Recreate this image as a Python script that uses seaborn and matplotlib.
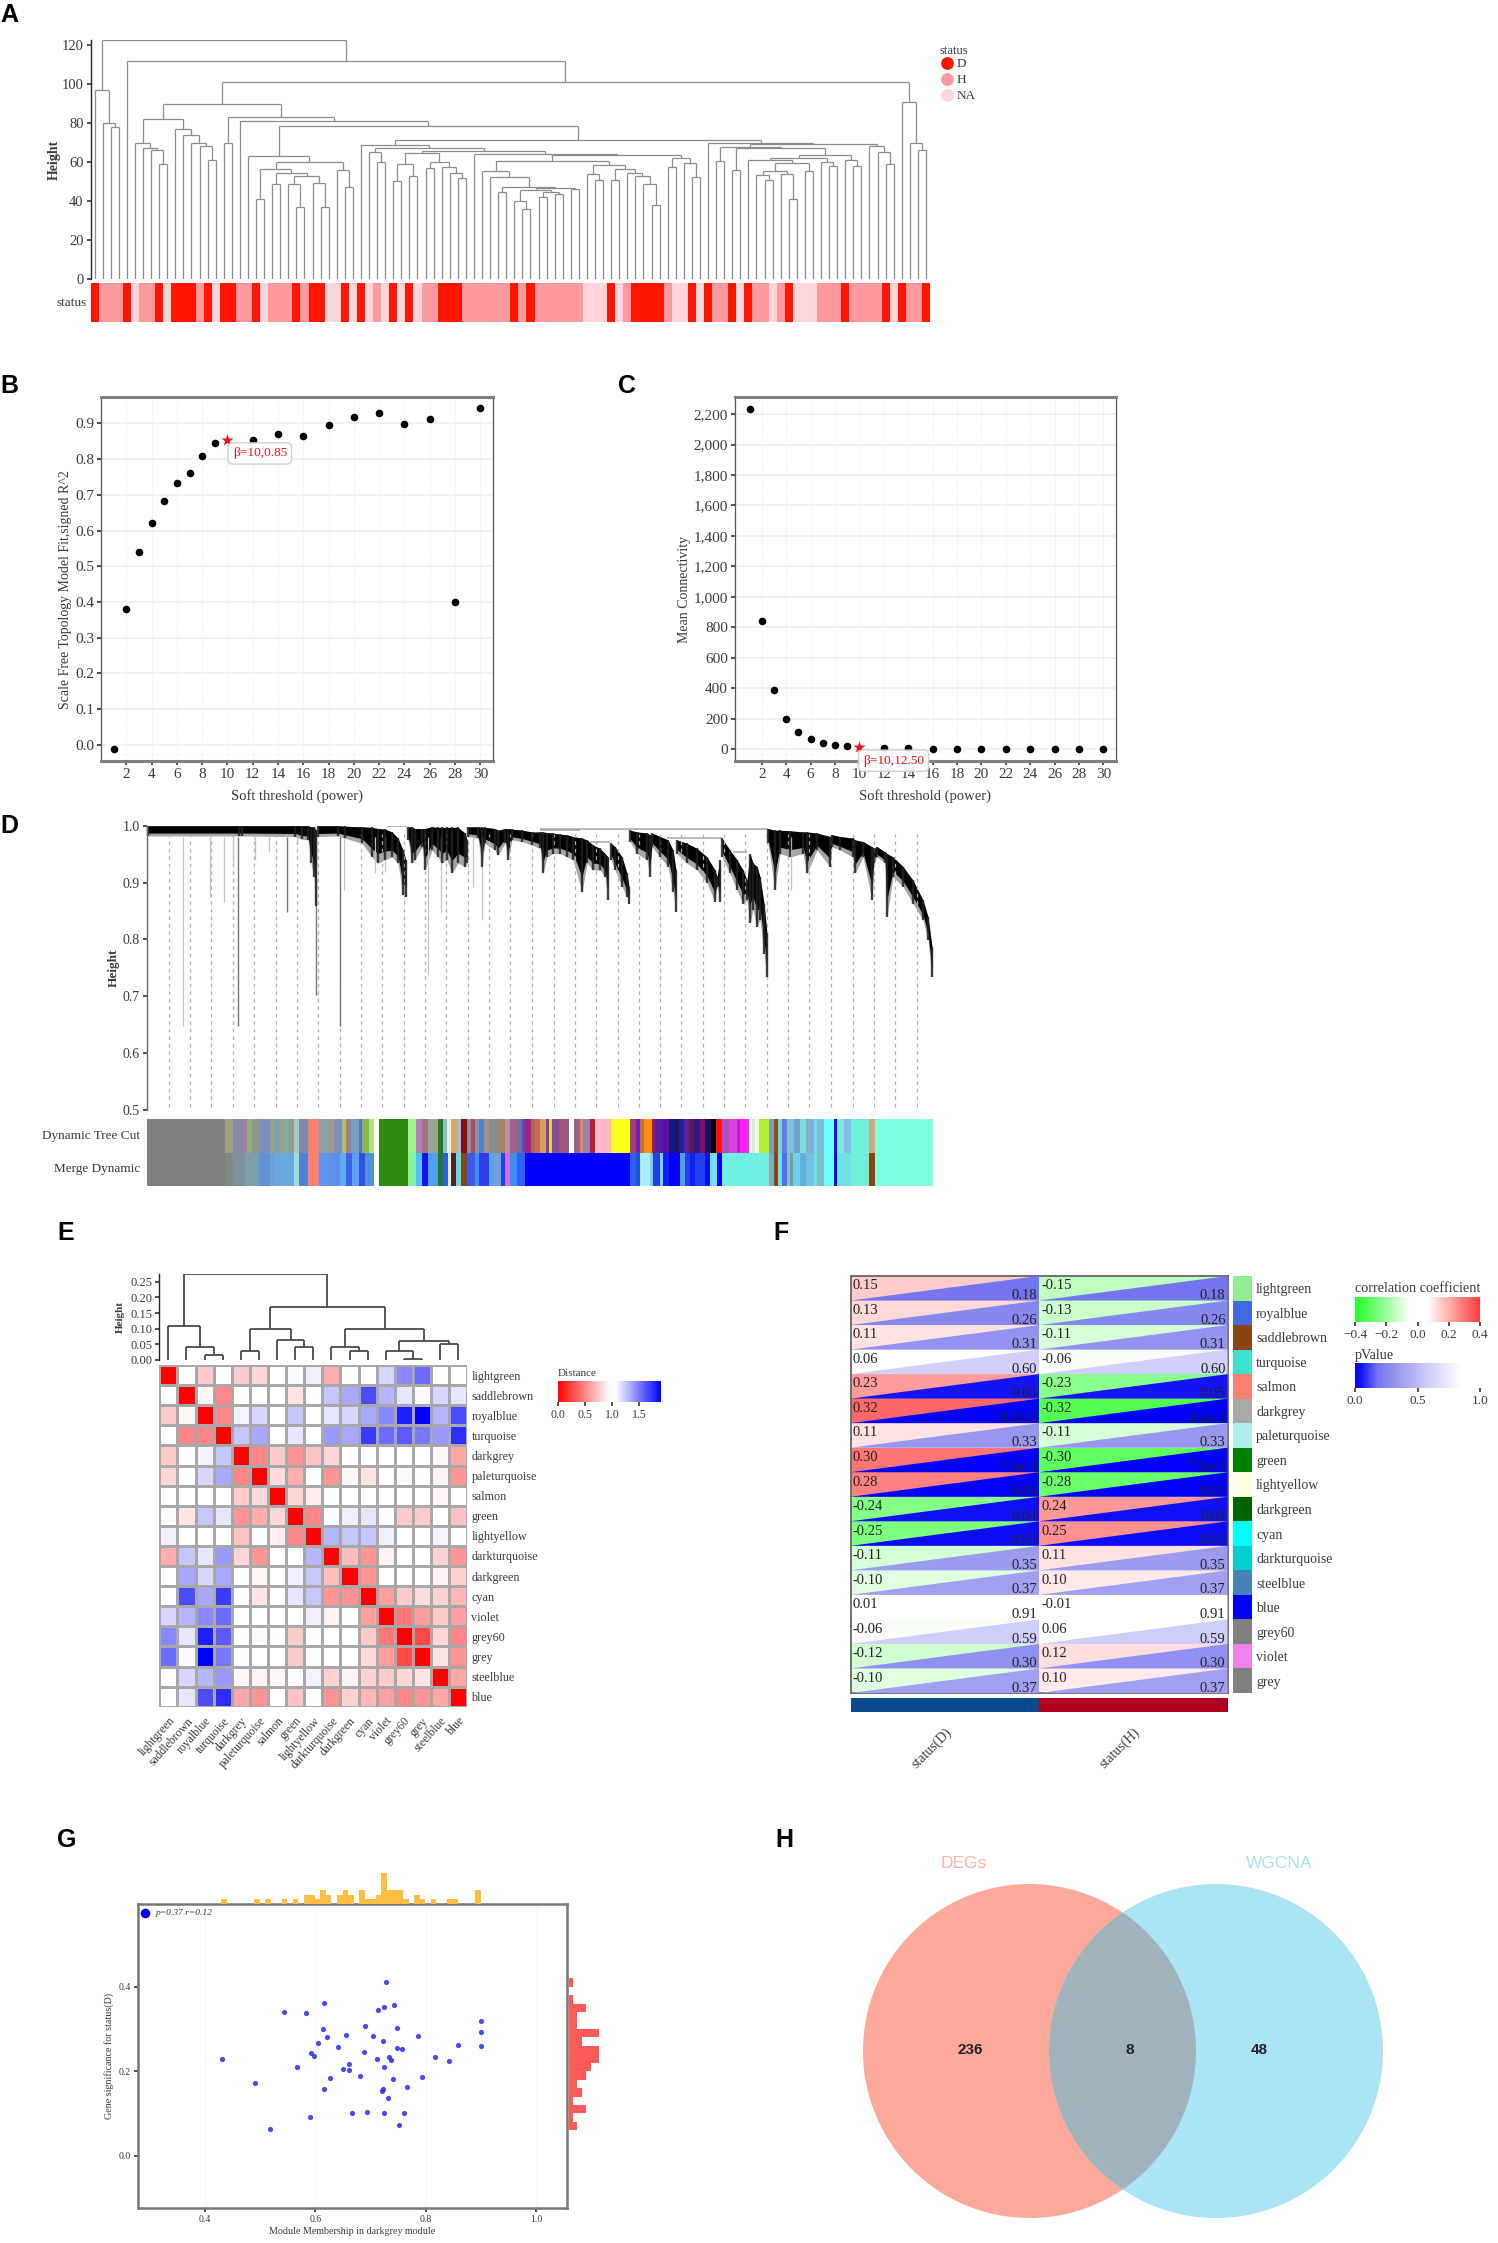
import numpy as np
import pandas as pd
import matplotlib
matplotlib.use("Agg")
import matplotlib.pyplot as plt
import seaborn as sns
from matplotlib.collections import LineCollection
from matplotlib.colors import LinearSegmentedColormap, ListedColormap, Normalize
from matplotlib.cm import ScalarMappable
from matplotlib.patches import Ellipse

# ---------------- panel A data ----------------
L = None
a_left = (97, L, (80, L, (78, L, L)))
a_p = (70, L, (67, L, (66, L, (59, L, L))))
a_q = (77, L, (74, L, (70, L, (68, L, (61, L, L)))))
a_u = (63, L, (60, (56.5, (41, L, L), (54.5, (49, L, L), (53, (49, L, (37, L, L)), (49.5, L, (37, L, L))))),
               (56, L, (47, L, L))))
a_g1 = (59, (50.5, L, L), (53, L, L))
a_g2 = (60, (57, L, L), (57.5, L, (54.5, L, (52, L, L))))
a_k1 = (55.5, L, (52.5, L, (47, (44.5, L, L),
        (46.5, (45.5, (40, L, (36, L, L)), (44.5, (42, L, L), (43.5, L, L))), (46, L, L)))))
a_k2 = (58.5, (54, L, (51, L, L)), (56.5, (51, L, L), (54.5, L, (53, L, (49, L, (38, L, L))))))
a_m = (62, (57.5, L, L), (59.5, L, (52.5, L, L)))
a_c1 = (64.3, L, (63.5, (60.5, a_k1, a_k2), a_m))
a_va = (68.5, L, (67, (65, L, (60, L, L)), (65.5, (64.5, a_g1, a_g2), a_c1)))
a_x = (61, L, (59.5, (55.5, (53.5, L, (51, L, L)), (54, L, (41, L, L))), (55.5, L, L)))
a_x2 = (62, a_x, (60, L, (58, L, L)))
a_y2 = (61, L, (58, L, L))
a_vbl = (67.5, (60.5, L, L), (67, (56, L, L), (63.5, a_x2, a_y2)))
a_vbr = (68, L, (65, L, (59, L, L)))
a_vb = (70, L, (69.5, a_vbl, a_vbr))
a_t = (78.5, a_u, (71.5, a_va, a_vb))
a_d = (89.5, (82, a_p, a_q), (83, (70, L, L), (81, L, a_t)))
a_e = (91, L, (70, L, (66, L, L)))
tree_a = (122.5, a_left, (112, L, (101, a_d, a_e)))
status_runs = [('D',1),('H',3),('D',1),('N',1),('H',2),('D',1),('N',1),('D',3),('H',1),('D',1),('N',1),('D',2),
               ('H',2),('D',1),('N',1),('H',3),('D',1),('H',1),('D',2),('N',2),('D',1),('N',1),('D',1),('N',1),
               ('H',1),('N',1),('D',1),('N',1),('D',1),('N',1),('H',2),('D',3),('H',6),('D',1),('H',1),('D',1),
               ('H',6),('N',3),('D',1),('N',1),('H',1),('D',4),('H',1),('N',2),('D',1),('N',1),('D',1),('H',2),
               ('D',1),('N',1),('D',1),('H',2),('N',1),('H',1),('D',1),('N',3),('H',3),('D',1),('H',4),('D',1),
               ('N',1),('D',1),('H',2),('D',1)]
status_colors = {'D': '#FF1500', 'H': '#FD9A9F', 'N': '#FFD5DC'}

# ---------------- panels B, C data ----------------
powers = [1,2,3,4,5,6,7,8,9,10,12,14,16,18,20,22,24,26,28,30]
r2_fit = [-0.013,0.38,0.541,0.62,0.684,0.733,0.762,0.808,0.845,0.855,0.855,0.87,0.866,0.896,0.918,0.93,0.898,0.913,0.40,0.943]
mean_k = [2235,840,385,200,110,65,42,27,18,12.5,6,4,2.5,1.5,1,1,0.8,0.6,0.5,0.4]
power_ticks = [2,4,6,8,10,12,14,16,18,20,22,24,26,28,30]

# ---------------- panel D data: branch envelopes ----------------
b1_x = [1,92,95,148,155,161,164,167,169]
b1_top = [1,1,1,1,1,1,.998,.998,.992]
b1_bot = [.982,.982,.982,.981,.976,.975,.934,.910,.858]
b2_x = [171,191,198,215,225,231,238,245,251,256,259]
b2_top = [1,1,.999,.998,.997,.995,.994,.989,.978,.957,.939]
b2_bot = [.981,.982,.978,.969,.945,.934,.940,.945,.934,.878,.875]
b3_x = [261,265,268,275,278,285,291,295,300,305,311,318,320]
b3_top = [.998,.998,.995,.995,.995,.998,.997,.997,.997,.997,.997,.987,.975]
b3_bot = [.975,.934,.940,.963,.922,.957,.945,.934,.940,.916,.934,.928,.934]
b4_x = [321,331,335,338,348,351,358,361,365,375,385,393,396,400,406,413,420,426,435,440,446,453,458,461]
b4_top = [.998,.998,.997,.997,.995,.992,.995,.995,.994,.992,.989,.989,.989,.988,.987,.985,.984,.981,.978,.975,.966,.960,.951,.945]
b4_bot = [.981,.978,.928,.969,.957,.948,.969,.940,.975,.972,.966,.960,.916,.945,.951,.951,.945,.940,.884,.934,.922,.922,.910,.869]
b5_x = [464,468,475,480,482]
b5_top = [.969,.963,.945,.916,.893]
b5_bot = [.940,.922,.893,.875,.863]
b6_x = [483,490,500,503,505,513,521,526,529]
b6_top = [.992,.989,.987,.984,.987,.981,.975,.957,.922]
b6_bot = [.972,.951,.940,.910,.963,.945,.928,.884,.849]
b7_x = [530,540,550,560,568,570,573]
b7_top = [.975,.969,.960,.945,.922,.910,.940]
b7_bot = [.951,.934,.922,.899,.866,.893,.866]
b8_x = [575,583,590,596,600,603,606,610,613,617,620]
b8_top = [.978,.957,.940,.922,.904,.951,.934,.928,.910,.863,.811]
b8_bot = [.945,.916,.887,.863,.869,.828,.852,.822,.834,.775,.734]
b9_x = [621,628,633,643,656,660,670,683,685,693,706,708,716,725,727,730,738,740,746,756,766,776,781,785]
b9_top = [.995,.992,.992,.991,.989,.989,.987,.981,.984,.981,.978,.975,.972,.963,.960,.963,.954,.951,.945,.928,.904,.869,.840,.787]
b9_bot = [.969,.887,.951,.945,.951,.916,.957,.928,.963,.957,.945,.916,.945,.869,.934,.945,.934,.840,.910,.893,.863,.834,.799,.734]
spike_x = [36,63,77,86,91,108,122,140,150,169,193,197,228,238,281,294,326,335,644]
spike_low = [.647,.875,.866,.934,.647,.940,.954,.849,.972,.702,.647,.887,.916,.919,.737,.849,.893,.834,.887]
spike_dark = [0,0,0,0,1,0,0,1,0,1,1,0,0,0,0,0,0,0,0]
guide_x = [22,43,64,86,107,129,150,171,193,214,235,257,278,299,321,342,363,385,407,428,449,471,492,513,
           534,556,577,598,620,641,662,684,706,727,748,770]
link_h = [.995,.993,.971,.979,.954,1.0]
link_x0 = [393,393,443,520,586,240]
link_x1 = [621,433,463,575,600,260]
# colour strips: (end position in the read-off scale, colour), two sections
cut_left = [(240,'#808080'),(262,'#a0a080'),(290,'#8888a0'),(305,'#a080a8'),(320,'#9aaa80'),(345,'#8a9a90'),(375,'#7f90c0'),
 (385,'#a0a080'),(405,'#80a0b0'),(420,'#a0a080'),(432,'#70b0b8'),(445,'#a09880'),(462,'#a0d0c0'),(488,'#7f88b0'),(520,'#fa8072'),
 (550,'#8f9fa8'),(565,'#a09a90'),(590,'#8090c0'),(602,'#b0c070'),(618,'#a08080'),(640,'#70a0c0'),(650,'#6070c0'),(672,'#90b850'),
 (686,'#a8e880'),(700,'#ffffff'),(788,'#2e8b10'),(812,'#a0f090'),(830,'#b080b0'),(848,'#a07088'),(862,'#90a890'),(878,'#a0a090'),
 (892,'#1f7a2a'),(905,'#90c0c0'),(918,'#e0f0f0'),(935,'#d8a860'),(948,'#a0c0d0'),(965,'#8b0a1a'),(978,'#a08890'),(990,'#a05070'),
 (1002,'#9090a0'),(1015,'#5080d0'),(1030,'#a09090'),(1068,'#8a8a88'),(1080,'#b08050'),(1095,'#b890b0'),(1115,'#a06090'),
 (1130,'#7070a0'),(1140,'#5050c0'),(1158,'#a02080'),(1170,'#b06060'),(1190,'#c07050')]
cut_right = [(18,'#d8a060'),(25,'#8040a0'),(36,'#e8d040'),(55,'#8050a0'),(85,'#a05880'),(100,'#ffffff'),(120,'#a06080'),(128,'#d09060'),
 (150,'#a080b0'),(165,'#b02030'),(212,'#ffb6c8'),(268,'#ffff20'),(288,'#a04070'),(300,'#7020b0'),(310,'#c07030'),(335,'#ff9010'),
 (345,'#902050'),(365,'#5020a0'),(385,'#6010a0'),(405,'#101880'),(415,'#201060'),(430,'#202090'),(445,'#6020a0'),(460,'#601860'),
 (478,'#301880'),(495,'#801070'),(512,'#201060'),(528,'#000000'),(545,'#ff1000'),(565,'#b050c0'),(590,'#e040e0'),(600,'#c020d0'),
 (625,'#ff20f0'),(635,'#ffffff'),(645,'#d0f0d0'),(655,'#f4fff4'),(685,'#b0f030'),(700,'#80a0a0'),(712,'#805030'),(725,'#80d0e0'),
 (740,'#6080e0'),(760,'#80c0e0'),(780,'#70a0d0'),(798,'#80e0e0'),(820,'#80b0d0'),(830,'#80d0f0'),(850,'#70c0d0'),(880,'#70ffff'),
 (890,'#1010e0'),(910,'#80e8e8'),(932,'#80c0e0'),(985,'#70f0d8'),(1005,'#d0a880'),(1200,'#7fffe0')]
merge_left = [(240,'#808080'),(262,'#808a80'),(300,'#7f8f9f'),(335,'#80a0a8'),(345,'#60a0c0'),(375,'#6090d0'),(385,'#70a0d0'),
 (445,'#6aa8e0'),(450,'#a0d8e0'),(462,'#a0e0d0'),(488,'#5080d8'),(520,'#fa8072'),(550,'#6090f0'),(585,'#5a90e8'),(602,'#60b0f0'),
 (620,'#4060f0'),(640,'#60a0f0'),(660,'#3050e0'),(686,'#5090e0'),(700,'#ffffff'),(788,'#2e8b10'),(800,'#90f090'),(812,'#80f0c0'),
 (830,'#50c0f8'),(848,'#1010f0'),(878,'#50a0f0'),(892,'#1f7a2a'),(908,'#3060e0'),(918,'#e0f0f0'),(932,'#502030'),(948,'#60e0e0'),
 (965,'#8b4513'),(978,'#3060f0'),(990,'#5050f0'),(1000,'#4090f0'),(1030,'#3040f0'),(1045,'#60a0f0'),(1068,'#70a0e0'),(1080,'#2040f0'),
 (1095,'#d070f0'),(1115,'#4090f0'),(1140,'#3060ff'),(1190,'#0000ff')]
merge_right = [(268,'#0000ff'),(288,'#3060f0'),(300,'#2050e0'),(330,'#a8f0ff'),(338,'#80d0f0'),(358,'#2040e0'),(368,'#80d0f0'),
 (385,'#1020f0'),(420,'#0000ff'),(435,'#50a0f0'),(448,'#2040f0'),(465,'#1020f0'),(495,'#2040f0'),(510,'#0010e0'),(530,'#70e0ff'),
 (545,'#0000f0'),(685,'#70f0e0'),(700,'#80b0c0'),(712,'#8b4513'),(725,'#70e0f0'),(740,'#5070f0'),(750,'#80c0e0'),(758,'#80a080'),
 (780,'#70d0f0'),(798,'#60b0d8'),(820,'#70c0e0'),(830,'#70e0f0'),(850,'#80c0c0'),(880,'#70ffff'),(890,'#0a0ae0'),(932,'#70e0e8'),
 (985,'#70f0d8'),(1005,'#8b4513'),(1200,'#7fffe0')]

# ---------------- panel E data ----------------
e_modules = ['lightgreen','saddlebrown','royalblue','turquoise','darkgrey','paleturquoise','salmon','green','lightyellow',
             'darkturquoise','darkgreen','cyan','violet','grey60','grey','steelblue','blue']
e_distance = [
 [0,1,.75,1,.75,.8,1,1.08,1.12,.65,1,1.05,1.2,1.45,1.55,1,1],
 [1,0,.92,.5,1,1.05,1,.85,1,1.25,1.35,1.65,1.3,1.15,1.08,1.2,1.15],
 [.75,.92,0,.5,1.1,1.2,1.05,1.25,1,1.15,1.2,1.35,1.45,1.8,1.9,1.3,1.65],
 [1,.5,.5,0,1.25,1.35,1.05,1.15,1,1.4,1.35,1.7,1.55,1.6,1.5,1.4,1.75],
 [.75,1,1.1,1.25,0,.5,.75,.55,.72,.8,1,1,1,.95,1,.92,.62],
 [.8,1.05,1.2,1.35,.5,0,.82,.65,1,.55,.92,.85,.95,.93,.95,.9,.55],
 [1,1,1.05,1.05,.75,.82,0,.8,.88,1,1.05,1,1,1,1,.92,.95],
 [1.08,.85,1.25,1.15,.55,.65,.8,0,.5,1.05,1.12,1.15,1,.75,.75,1,.72],
 [1.12,1,1,1,.72,1,.88,.5,0,1.3,1.25,1.25,1.12,1,.95,1.1,1.03],
 [.65,1.25,1.15,1.4,.8,.55,1,1.05,1.3,0,.7,.55,.9,1,1,.78,.55],
 [1,1.35,1.2,1.35,1,.92,1.05,1.12,1.25,.7,0,.55,1,1,1,.9,.78],
 [1.05,1.65,1.35,1.7,1,.85,1.05,1.15,1.25,.55,.55,0,.6,.75,.82,.78,.68],
 [1.2,1.3,1.45,1.55,1,.95,1,1,1.12,.9,1,.6,0,.45,.58,.75,.6],
 [1.45,1.15,1.8,1.6,.95,.93,1,.75,1,1,1,.75,.45,0,.28,.8,.5],
 [1.55,1.08,1.9,1.5,1,.95,1,.75,.95,1,1,.82,.58,.28,0,.85,.55],
 [1,1.2,1.3,1.4,.92,.9,.92,1,1.1,.78,.9,.78,.75,.8,.85,0,.62],
 [1,1.15,1.65,1.75,.62,.55,.95,.72,1.03,.55,.78,.68,.6,.5,.55,.62,0]]
tree_e = (.275, (.11, L, (.04, L, (.017, L, L))),
          (.17, (.098, (.03, L, L), (.065, L, (.04, L, L))),
                (.10, (.04, L, (.03, L, L)), (.06, (.03, L, (.003, L, L)), (.05, L, L)))))
e_height_ticks = [0, .05, .10, .15, .20, .25]

# ---------------- panel F data ----------------
f_modules = ['lightgreen','royalblue','saddlebrown','turquoise','salmon','darkgrey','paleturquoise','green','lightyellow',
             'darkgreen','cyan','darkturquoise','steelblue','blue','grey60','violet','grey']
f_module_colors = ['#90EE90','#4169E1','#8B4513','#40E0D0','#FA8072','#A9A9A9','#AFEEEE','#008000','#FFFFE0',
                   '#006400','#00FFFF','#00CED1','#4682B4','#0000FF','#808080','#EE82EE','#808080']
corr_d = [.15,.13,.11,.06,.23,.32,.11,.30,.28,-.24,-.25,-.11,-.10,.01,-.06,-.12,-.10]
corr_h = [-.15,-.13,-.11,-.06,-.23,-.32,-.11,-.30,-.28,.24,.25,.11,.10,-.01,.06,.12,.10]
p_values = [.18,.26,.31,.60,.05,.0042,.33,.007,.01,.04,.03,.35,.37,.91,.59,.30,.37]
p_labels = ['0.18','0.26','0.31','0.60','0.05','4.2e-3','0.33','7.0e-3','0.01','0.04','0.03','0.35','0.37','0.91','0.59','0.30','0.37']
f_traits = ['status(D)', 'status(H)']

# ---------------- panel G data ----------------
mm_x = [.431,.490,.518,.543,.567,.582,.590,.591,.598,.605,.613,.615,.616,.621,.626,.641,.650,.656,.660,.660,.666,.681,.687,.689,
        .693,.705,.712,.714,.720,.723,.722,.724,.725,.725,.728,.731,.733,.737,.740,.742,.748,.748,.752,.757,.760,.766,.786,.793,
        .816,.841,.858,.899,.900,.899]
gs_y = [.228,.173,.062,.340,.210,.338,.092,.244,.235,.267,.300,.158,.361,.282,.185,.258,.205,.286,.218,.203,.101,.189,.246,.307,
        .103,.284,.230,.345,.152,.159,.271,.352,.101,.211,.411,.136,.234,.227,.182,.357,.303,.256,.072,.253,.100,.162,.283,.187,
        .234,.225,.263,.320,.294,.259]
top_counts = [1,0,0,0,0,0,1,0,1,0,0,1,0,1,0,2,2,1,3,2,0,2,3,2,0,3,1,1,2,7,3,3,3,1,0,2,1,0,1,0,0,1,1,0,0,0,3]
right_counts = [2,1,4,1,3,2,4,5,7,7,3,7,2,2,4,1,0,1]

# ---------------- panel H data ----------------
venn_names = ['DEGs', 'WGCNA']
venn_counts = [236, 8, 48]

# ---------------- drawing ----------------
sns.set_theme(style='ticks')
plt.rcParams['font.family'] = ['Liberation Serif', 'DejaVu Sans']
plt.rcParams['axes.linewidth'] = 1.0
W, H = 1498, 2243
fig = plt.figure(figsize=(W/100, H/100), dpi=100, facecolor='white')
TXT = '#3a3a3a'


def axpx(x0, y0, x1, y1, **kw):
    return fig.add_axes([x0/W, 1-y1/H, (x1-x0)/W, (y1-y0)/H], **kw)


def draw_tree(ax, tree, color, lw):
    segs = []
    n = [0]

    def rec(node):
        if node is None:
            x = n[0]
            n[0] += 1
            return x, 0.0
        h, a, b = node
        xa, ha = rec(a)
        xb, hb = rec(b)
        segs.extend([[(xa, ha), (xa, h)], [(xa, h), (xb, h)], [(xb, h), (xb, hb)]])
        return (xa+xb)/2, h
    rec(tree)
    ax.add_collection(LineCollection(segs, colors=color, linewidths=lw))
    return n[0]


# Panel A
axA = axpx(90.6, 40, 930, 279.3)
nA = draw_tree(axA, tree_a, '#8c8c8c', 0.9)
axA.set_xlim(-.5, nA-.5)
axA.set_ylim(0, 122.5)
sns.despine(ax=axA, bottom=True)
axA.set_xticks([])
axA.set_yticks([0, 20, 40, 60, 80, 100, 120])
axA.tick_params(axis='y', labelsize=10.5, length=3, colors=TXT, pad=2)
axA.set_ylabel('Height', fontsize=10, color=TXT, labelpad=1, fontweight='bold')
axS = axpx(90.6, 283, 930, 322)
s_list = [c for c, k in status_runs for _ in range(k)]
s_df = pd.DataFrame([[['D', 'H', 'N'].index(c) for c in s_list]])
sns.heatmap(s_df, ax=axS, cbar=False, vmin=0, vmax=2, xticklabels=False, yticklabels=['status'],
            cmap=ListedColormap([status_colors[k] for k in 'DHN']))
axS.tick_params(axis='y', length=0, labelsize=9.5, labelcolor=TXT, rotation=0, pad=3)

# Overlay for letters and legends
ov = fig.add_axes([0, 0, 1, 1], zorder=20, facecolor='none')
ov.set_xlim(0, W)
ov.set_ylim(H, 0)
ov.axis('off')
ov.text(940, 51, 'status', fontsize=9, color=TXT, va='center')
for lab, yy, k in zip(['D', 'H', 'NA'], [63, 79, 95], 'DHN'):
    ov.scatter([947], [yy], s=85, color=status_colors[k], linewidths=0)
    ov.text(957, yy+1, lab, fontsize=9.5, color=TXT, va='center')
for lab, x, y in [('A', 0, 15), ('B', 0, 386), ('C', 618, 386), ('D', 0, 826),
                  ('E', 57, 1233), ('F', 773, 1233), ('G', 57, 1840), ('H', 775, 1840)]:
    ov.text(x, y, lab, fontsize=18, fontweight='bold', family=['Liberation Sans'], color='black', va='center', ha='left')


def soft_panel(ax, y, star_xy, label, label_xy, yticks, ylabel, fmt):
    df = pd.DataFrame({'power': powers, 'value': y})
    sns.scatterplot(data=df[df.power != 10], x='power', y='value', ax=ax, color='black', s=30, linewidth=0, zorder=3)
    ax.scatter([star_xy[0]], [star_xy[1]], marker='*', s=85, color='#f01020', linewidths=0, zorder=5)
    ax.set_xticks(power_ticks)
    ax.set_yticks(yticks)
    if fmt:
        ax.set_yticklabels([f'{v:,}' for v in yticks])
    ax.grid(axis='y', color='#f0f0f0', lw=1.3)
    ax.grid(axis='x', color='#f2f2f2', lw=.7, ls='--')
    ax.set_axisbelow(True)
    ax.tick_params(labelsize=11, length=3, colors=TXT, pad=2)
    ax.set_xlabel('Soft threshold (power)', fontsize=10.5, color=TXT, labelpad=6)
    ax.set_ylabel(ylabel, fontsize=10, color=TXT)
    for s in ['top', 'bottom']:
        ax.spines[s].set_linewidth(2.2)
        ax.spines[s].set_color('#808080')
    for s in ['left', 'right']:
        ax.spines[s].set_color('#555555')
        ax.spines[s].set_linewidth(.9)
    ax.text(label_xy[0], label_xy[1], label, color='#f01020', fontsize=9.5, ha='center', va='center', zorder=6,
            clip_on=False, bbox=dict(boxstyle='round,pad=0.35', fc='white', ec='#cccccc', lw=1, alpha=.9))


axB = axpx(101, 396.7, 493, 760.7)
soft_panel(axB, r2_fit, (10, .855), '\u03b2=10,0.85', (12.56, .816), [0, .1, .2, .3, .4, .5, .6, .7, .8, .9],
           'Scale Free Topology Model Fit,signed R^2', False)
axB.set_xlim(0, 31)
axB.set_ylim(-.045, .975)
axB.yaxis.set_label_coords(-.075, .47)
axC = axpx(735, 396.7, 1115.6, 760.7)
soft_panel(axC, mean_k, (10, 12.5), '\u03b2=10,12.50', (12.8, -77), list(range(0, 2201, 200)),
           'Mean Connectivity', True)
axC.set_xlim(-.2, 31)
axC.set_ylim(-77, 2314)
axC.yaxis.set_label_coords(-.115, .47)

# Panel D
axD = axpx(147, 825.7, 933, 1110)
axD.set_xlim(0, 786)
axD.set_ylim(.5, 1.0)
axD.vlines(guide_x, .505, .985, color='#b0b0b0', lw=.9, ls=(0, (3, 3)))
for sx, sl, dk in zip(spike_x, spike_low, spike_dark):
    axD.vlines(sx, sl, .98, color='#777777' if dk else '#c4c4c4', lw=1.0 if dk else .9)
axD.hlines(link_h, link_x0, link_x1, color='#aaaaaa', lw=1.2)
for bx, bt, bb in [(b1_x, b1_top, b1_bot), (b2_x, b2_top, b2_bot), (b3_x, b3_top, b3_bot), (b4_x, b4_top, b4_bot),
                   (b5_x, b5_top, b5_bot), (b6_x, b6_top, b6_bot), (b7_x, b7_top, b7_bot), (b8_x, b8_top, b8_bot),
                   (b9_x, b9_top, b9_bot)]:
    t, b = np.array(bt), np.array(bb)
    axD.fill_between(bx, t, b, color='#6a6a6a', alpha=.6, lw=0, clip_on=False)
    axD.fill_between(bx, t, t+.72*(b-t), color='black', lw=0, clip_on=False)
    axD.vlines(bx, t, b, color='#222222', lw=1.7, alpha=.85, clip_on=False)
sns.despine(ax=axD, bottom=True)
axD.spines['left'].set_color('#666666')
axD.set_xticks([])
axD.set_yticks([.5, .6, .7, .8, .9, 1.0])
axD.tick_params(axis='y', labelsize=10, length=3, colors=TXT, pad=2)
axD.set_ylabel('Height', fontsize=9.5, color=TXT, fontweight='bold', labelpad=2)


def strip_cols(left, right):
    out = []
    for x in range(786):
        if x < 393:
            runs, z = left, (x+2)*3
        else:
            runs, z = right, (x-393)*3
        for end, c in runs:
            if z < end:
                out.append(c)
                break
        else:
            out.append(runs[-1][1])
    return out


col_top = strip_cols(cut_left, cut_right)
col_bot = strip_cols(merge_left, merge_right)
uniq = sorted(set(col_top+col_bot))
mat = pd.DataFrame([[uniq.index(c) for c in col_top], [uniq.index(c) for c in col_bot]])
axStrip = axpx(147, 1119, 933, 1186)
sns.heatmap(mat, ax=axStrip, cbar=False, cmap=ListedColormap(uniq), vmin=0, vmax=len(uniq)-1,
            xticklabels=False, yticklabels=['Dynamic Tree Cut', 'Merge Dynamic'])
axStrip.tick_params(axis='y', length=0, labelsize=9.5, labelcolor=TXT, rotation=0, pad=5)

# Panel E
dist_cmap = LinearSegmentedColormap.from_list('dist', [(0, '#ff0000'), (.5, '#ffffff'), (.56, '#ffffff'), (1, '#0000ff')])
axE = axpx(159.3, 1365, 467.3, 1706.7)
df_e = pd.DataFrame(e_distance, index=e_modules, columns=e_modules)
sns.heatmap(df_e, ax=axE, cmap=dist_cmap, vmin=0, vmax=1.9, cbar=False, linewidths=.9, linecolor='#a8a8a8')
axE.yaxis.tick_right()
axE.tick_params(axis='y', length=0, labelsize=8.7, labelcolor=TXT, rotation=0, pad=3)
axE.tick_params(axis='x', length=0, labelsize=8.5, labelcolor=TXT, pad=6)
plt.setp(axE.get_xticklabels(), rotation=48, ha='right', rotation_mode='anchor')
axEt = axpx(159.3, 1274, 467.3, 1360)
n_e = draw_tree(axEt, tree_e, '#4a4a4a', 1.3)
axEt.set_xlim(-.5, n_e-.5)
axEt.set_ylim(0, .275)
sns.despine(ax=axEt, bottom=True)
axEt.set_xticks([])
axEt.set_yticks(e_height_ticks)
axEt.set_yticklabels(['0.00', '0.05', '0.10', '0.15', '0.20', '0.25'])
axEt.tick_params(axis='y', labelsize=9, length=3, colors=TXT, pad=2)
axEt.set_ylabel('Height', fontsize=8, color=TXT, labelpad=4, fontweight='bold')
cE = axpx(557.7, 1380.7, 661, 1401.7)
cbE = fig.colorbar(ScalarMappable(Normalize(0, 1.9), dist_cmap), cax=cE, orientation='horizontal')
cbE.set_ticks([0, .5, 1, 1.5])
cbE.set_ticklabels(['0.0', '0.5', '1.0', '1.5'])
cbE.outline.set_visible(False)
cE.tick_params(labelsize=8.5, length=3, colors=TXT, pad=2)
ov.text(558, 1374, 'Distance', fontsize=8, color=TXT, va='center')

# Panel F
corr_cmap = LinearSegmentedColormap.from_list('corr', [(0, '#20ff20'), (.44, '#ffffff'), (.58, '#ffffff'), (1, '#ff3a3a')])
p_cmap = LinearSegmentedColormap.from_list('pv', [(0, '#0000ff'), (.05, '#1515f5'), (.18, '#7575f0'), (.37, '#a0a0f0'),
                                                  (.6, '#d0d0fa'), (.85, '#ffffff'), (1, '#ffffff')])
p_norm = Normalize(0, 1)
axF = axpx(850.5, 1276, 1227.5, 1693)
df_f = pd.DataFrame({f_traits[0]: corr_d, f_traits[1]: corr_h}, index=f_modules)
sns.heatmap(df_f, ax=axF, cmap=corr_cmap, vmin=-.4, vmax=.4, cbar=False, xticklabels=False, yticklabels=False)
for r, pv in enumerate(p_values):
    for c, vals in enumerate([corr_d, corr_h]):
        axF.fill([c, c+1, c+1], [r+1, r, r+1], color=p_cmap(p_norm(pv)), lw=0, zorder=3)
        axF.text(c+.012, r+.40, f'{vals[r]:.2f}', fontsize=10.5, color='#222222', ha='left', va='center', zorder=4)
        axF.text(c+.99, r+.80, p_labels[r], fontsize=10.5, color='#222222', ha='right', va='center', zorder=4)
for s in axF.spines.values():
    s.set_visible(True)
    s.set_color('#666666')
    s.set_linewidth(1.3)
axFa = axpx(1232.6, 1276, 1252, 1693)
sns.heatmap(pd.DataFrame({'m': list(range(17))}, index=f_modules), ax=axFa, cbar=False,
            cmap=ListedColormap(f_module_colors), vmin=0, vmax=16, xticklabels=False, yticklabels=True)
axFa.yaxis.tick_right()
axFa.set_ylabel('')
axFa.tick_params(axis='y', length=0, labelsize=10, labelcolor=TXT, rotation=0, pad=3)
axFb = axpx(850.5, 1698, 1227.5, 1712)
sns.heatmap(pd.DataFrame([[0, 1]], columns=f_traits), ax=axFb, cbar=False, cmap=ListedColormap(['#0b4a8c', '#b00020']),
            yticklabels=False)
axFb.tick_params(axis='x', length=0, labelsize=10, labelcolor=TXT, pad=10)
plt.setp(axFb.get_xticklabels(), rotation=45, ha='right', rotation_mode='anchor')
cF1 = axpx(1355, 1297, 1480, 1322)
cb1 = fig.colorbar(ScalarMappable(Normalize(-.4, .4), corr_cmap), cax=cF1, orientation='horizontal')
cb1.set_ticks([-.4, -.2, 0, .2, .4])
cb1.set_ticklabels(['\u22120.4', '\u22120.2', '0.0', '0.2', '0.4'])
cb1.outline.set_visible(False)
cF1.tick_params(labelsize=9.5, length=3, colors=TXT, pad=2)
cF2 = axpx(1355, 1363, 1480, 1388)
cb2 = fig.colorbar(ScalarMappable(p_norm, p_cmap), cax=cF2, orientation='horizontal')
cb2.set_ticks([0, .5, 1])
cb2.set_ticklabels(['0.0', '0.5', '1.0'])
cb2.outline.set_visible(False)
cF2.tick_params(labelsize=9.5, length=3, colors=TXT, pad=2)
ov.text(1355, 1289, 'correlation coefficient', fontsize=10.3, color=TXT, va='center')
ov.text(1355, 1355, 'pValue', fontsize=10.3, color=TXT, va='center')

# Panel G
axG = axpx(137.7, 1904, 566.7, 2208)
sns.scatterplot(x=mm_x, y=gs_y, ax=axG, color='#2a2aee', s=14, linewidth=0, alpha=.85, zorder=3)
axG.set_xlim(.278, 1.055)
axG.set_ylim(-.124, .596)
axG.set_xticks([.4, .6, .8, 1.0])
axG.set_yticks([0, .2, .4])
axG.grid(axis='x', color='#f8f8f8', lw=.8)
axG.tick_params(labelsize=7, length=3, colors=TXT, pad=2)
axG.set_xlabel('Module Membership in darkgrey module', fontsize=7.2, color=TXT, labelpad=2)
axG.set_ylabel('Gene significance for status(D)', fontsize=7.2, color=TXT, labelpad=3)
for s in axG.spines.values():
    s.set_color('#777777')
    s.set_linewidth(1.8)
axG.scatter([.018], [.972], transform=axG.transAxes, s=48, color='#0000ee', linewidths=0, zorder=5)
axG.text(.041, .97, 'p=0.37 r=0.12', transform=axG.transAxes, fontsize=6.8, color=TXT, va='center', style='italic')
top_edges = [.429 + .01*i for i in range(len(top_counts)+1)]
top_mid = [.434 + .01*i for i in range(len(top_counts))]
axGt = axpx(137.7, 1872, 566.7, 1903.5)
sns.histplot(x=top_mid, weights=top_counts, bins=top_edges, ax=axGt, color='#FFBE42', alpha=1, edgecolor='none', linewidth=0)
axGt.set_xlim(.278, 1.055)
axGt.set_ylim(0, 7.2)
axGt.axis('off')
right_edges = [.06 + .02*i for i in range(len(right_counts)+1)]
right_mid = [.07 + .02*i for i in range(len(right_counts))]
axGr = axpx(568.7, 1904, 600.7, 2208)
sns.histplot(y=right_mid, weights=right_counts, bins=right_edges, ax=axGr, color='#FF5A5A', alpha=1, edgecolor='none', linewidth=0)
axGr.set_ylim(-.124, .596)
axGr.set_xlim(0, 7.3)
axGr.axis('off')

# Panel H
axH = axpx(830, 1840, 1420, 2243)
axH.set_xlim(830, 1420)
axH.set_ylim(2243, 1840)
axH.axis('off')
e1 = Ellipse((1029.5, 2051), 333, 334, color='#FCA99C', lw=0)
e2 = Ellipse((1216, 2051), 334, 334, color='#ABE4F3', lw=0)
axH.add_patch(e1)
axH.add_patch(e2)
lens = Ellipse((1029.5, 2051), 333, 334, color='#A0B2BC', lw=0)
axH.add_patch(lens)
lens.set_clip_path(e2)
for cnt, xx in zip(venn_counts, [970, 1130, 1259]):
    axH.text(xx, 2050, str(cnt), fontsize=11, fontweight='bold', family=['Liberation Sans'], color='#222222',
             ha='center', va='center')
axH.text(963.5, 1863, venn_names[0], fontsize=12.5, family=['Liberation Sans'], color='#FDB4AC', ha='center', va='center')
axH.text(1279, 1863, venn_names[1], fontsize=12.5, family=['Liberation Sans'], color='#ABE4F3', ha='center', va='center')

fig.savefig('out.png', dpi=100, facecolor='white')
